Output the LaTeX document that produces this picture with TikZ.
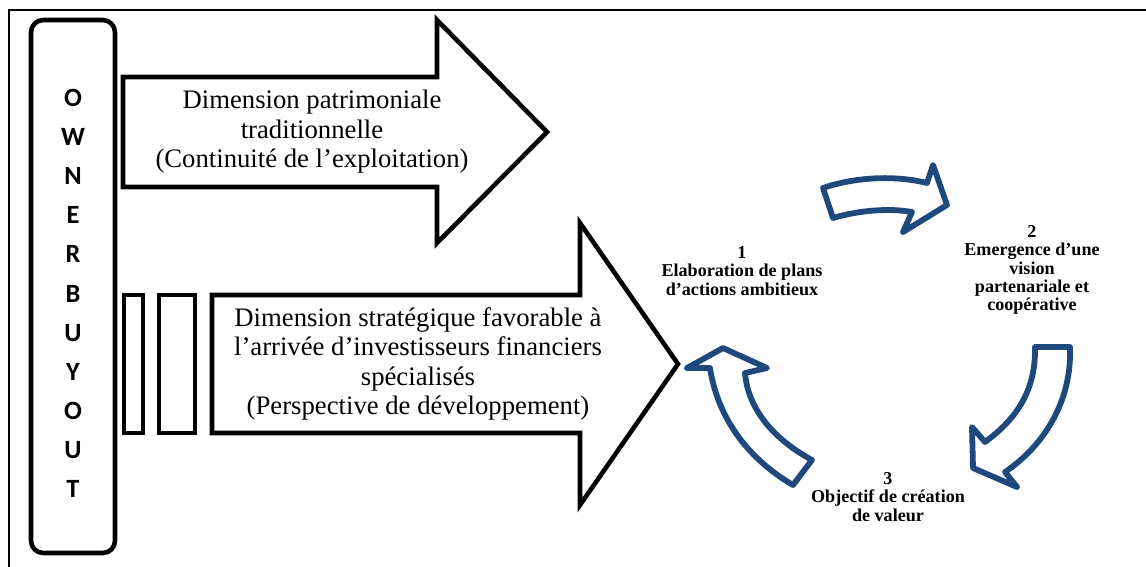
\documentclass[tikz,border=0pt]{standalone}
\usepackage{fontspec}
\setmainfont{Liberation Serif}
\newfontfamily\letterFont{Carlito}
\definecolor{cycleBlue}{RGB}{31,73,125}

\tikzset{every picture/.style={line width=2.6pt},
        bigArrow/.style={draw=black, fill=white, line join=miter},
        cycleArrow/.style={draw=cycleBlue, fill=white, line join=round, line width=3.3pt},
        dimText/.style={align=center, inner sep=0pt, font=\fontsize{15.2}{16.8}\selectfont},
        cycleText/.style={align=center, inner sep=0pt, font=\bfseries\fontsize{10.3}{10.5}\selectfont},
        letterText/.style={inner sep=0pt, font=\letterFont\bfseries\fontsize{15}{15}\selectfont}}

\begin{document}
\begin{tikzpicture}[x=0.02cm, y=-0.02cm]
\useasboundingbox (0,0) rectangle (1146,566);

% draw outer frame
\draw[line width=0.9pt] (9,10) rectangle (1170,590);

% draw owner buyout box and its letters
\draw[rounded corners=7pt] (31,20) rectangle (115,553);
\foreach \letter [count=\i from 0] in {O,W,N,E,R,B,U,Y,O,U,T} {
    \node[letterText] (letter-\i) at (73, 98+39.1*\i) {\letter};
}

% draw big arrows
\draw[bigArrow] (123,77) -- (437,77) -- (437,20) -- (547,132) -- (437,243) -- (437,187) -- (123,187) -- cycle;
\draw[bigArrow] (212,295) -- (580,295) -- (580,223) -- (678,364) -- (580,505) -- (580,433) -- (212,433) -- cycle;
\draw[bigArrow] (124,295) rectangle (143,433);
\draw[bigArrow] (159,295) rectangle (195,433);

\node[dimText] (dim-trad) at (312,132) {Dimension patrimoniale\\traditionnelle\\(Continuité de l’exploitation)};
\node[dimText] (dim-strat) at (418,364) {Dimension stratégique favorable à\\l’arrivée d’investisseurs financiers\\spécialisés\\(Perspective de développement)};

% draw cycle arrows
\draw[cycleArrow] (823,188) -- (833,218) .. controls (860,210) and (890,208) .. (912,212) -- (903,232) -- (947,205) -- (933,165) -- (927,183) .. controls (895,175) and (855,177) .. (823,188) -- cycle;
\draw[cycleArrow] (1035,347) -- (1070,347) .. controls (1072,400) and (1045,445) .. (1005,472) -- (1017,487) -- (973,468) -- (972,427) -- (985,442) .. controls (1015,420) and (1036,392) .. (1035,347) -- cycle;
\draw[cycleArrow] (723,348) -- (687,368) -- (710,368) .. controls (718,420) and (750,460) .. (793,485) -- (812,460) .. controls (775,440) and (748,410) .. (745,373) -- (767,368) -- cycle;

% draw cycle labels
\node[cycleText] (step-1) at (742,271) {1\\Elaboration de plans\\d’actions ambitieux};
\node[cycleText] (step-2) at (1032,270) {2\\Emergence d’une\\vision\\partenariale et\\coopérative};
\node[cycleText] (step-3) at (888,497) {3\\Objectif de création\\de valeur};

\end{tikzpicture}
\end{document}
